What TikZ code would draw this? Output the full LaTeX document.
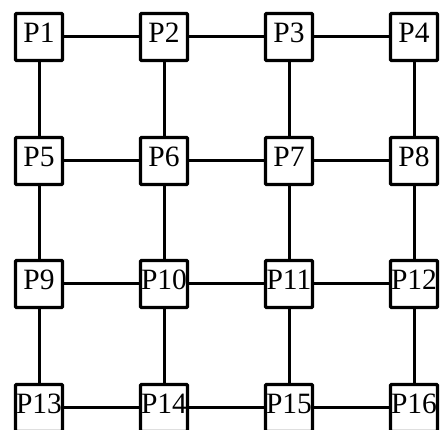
\documentclass[tikz,border=0pt]{standalone}
\usepackage{fontspec}
\setmainfont{Liberation Serif}
\begin{document}
\begin{tikzpicture}[x=1pt,y=-1pt,
  pbox/.style={draw=black, fill=white, line width=3.2pt, minimum width=47pt, minimum height=47pt, inner sep=0pt, rounded corners=1pt},
  plabel/.style={inner sep=0pt, font=\fontsize{29.5}{29.5}\selectfont, anchor=center},
  link/.style={line width=3pt, draw=black}]
\useasboundingbox (0,0) rectangle (440,430);
% grid of 4x4 processor boxes
\foreach \r/\y in {0/37,1/161,2/284,3/408}{
  \foreach \c/\x in {0/39,1/164,2/289,3/414}{
    \pgfmathtruncatemacro{\n}{\r*4+\c+1}
    \node[pbox] (p\n) at (\x,\y) {};
  }
}
% horizontal links
\foreach \a/\b in {1/2,2/3,3/4,5/6,6/7,7/8,9/10,10/11,11/12,13/14,14/15,15/16}{
  \draw[link] (p\a.east) -- (p\b.west);
}
% vertical links
\foreach \a/\b in {1/5,2/6,3/7,4/8,5/9,6/10,7/11,8/12,9/13,10/14,11/15,12/16}{
  \draw[link] (p\a.south) -- (p\b.north);
}
% labels
\foreach \n in {1,...,16}{
  \node[plabel] (t\n) at ([yshift=4pt]p\n.center) {P\n};
}
\end{tikzpicture}
\end{document}
